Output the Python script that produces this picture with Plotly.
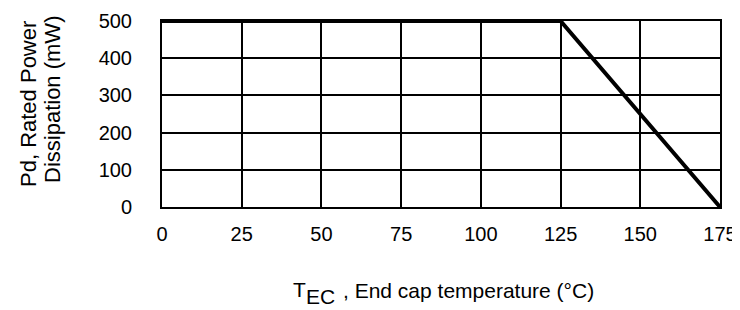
import plotly.graph_objects as go

temps = [0, 125, 175]
power = [500, 500, 0]
x_ticks = [0, 25, 50, 75, 100, 125, 150, 175]
y_ticks = [0, 100, 200, 300, 400, 500]

fig = go.Figure()
fig.add_trace(go.Scatter(x=temps, y=power, mode="lines",
                         line=dict(color="black", width=4), showlegend=False))

fam = "Liberation Sans, Arial, sans-serif"
font = dict(family=fam, size=20, color="black")
tfont = dict(family=fam, size=21, color="black")
yfont = dict(family=fam, size=22, color="black")

# figure is drawn 8px in from the page corner (default body margin)
W, H = 740, 310
L, T, R, B = 154, 13, 28, 111
pw, ph = W - L - R, H - T - B


def px(x):
    return (x - L) / pw


def py(y):
    return (H - B - y) / ph


fig.update_layout(
    width=W, height=H,
    margin=dict(l=L, r=R, t=T, b=B, autoexpand=False),
    plot_bgcolor="white", paper_bgcolor="white",
    font=font,
    xaxis=dict(range=[0, 175], tickvals=x_ticks, showgrid=True, gridcolor="black", gridwidth=2,
               showline=True, linecolor="black", linewidth=2, mirror=True, zeroline=False,
               ticks="", ticklabelstandoff=8, automargin=False),
    yaxis=dict(range=[0, 500], tickvals=y_ticks, showgrid=True, gridcolor="black", gridwidth=2,
               showline=True, linecolor="black", linewidth=2, mirror=True, zeroline=False,
               ticks="", ticklabelstandoff=24, automargin=False),
    annotations=[
        dict(text="T", xref="paper", yref="paper", x=px(283), y=py(281.5),
             xanchor="left", yanchor="middle", showarrow=False, font=tfont),
        dict(text="EC", xref="paper", yref="paper", x=px(296), y=py(288.5),
             xanchor="left", yanchor="middle", showarrow=False, font=tfont),
        dict(text=", End cap temperature (°C)", xref="paper", yref="paper", x=px(333),
             y=py(282), xanchor="left", yanchor="middle", showarrow=False, font=tfont),
        dict(text="Pd, Rated Power", xref="paper", yref="paper", x=px(20), y=py(96),
             xanchor="center", yanchor="middle", showarrow=False, textangle=-90, font=yfont),
        dict(text="Dissipation (mW)", xref="paper", yref="paper", x=px(45), y=py(92),
             xanchor="center", yanchor="middle", showarrow=False, textangle=-90, font=yfont),
    ],
)
fig.write_html("out.html")
